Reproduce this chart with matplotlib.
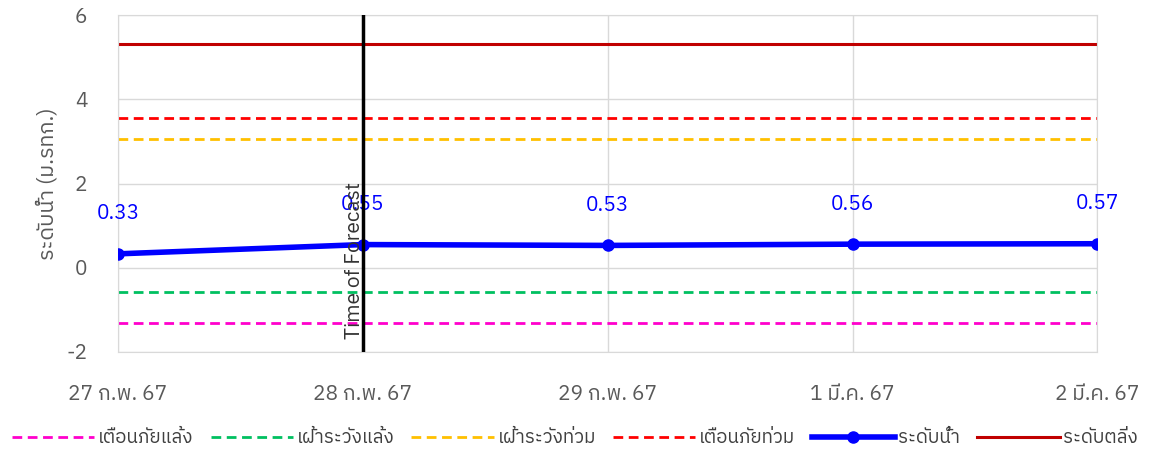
import matplotlib
matplotlib.use("Agg")
import matplotlib.pyplot as plt
from matplotlib import font_manager
from matplotlib.ft2font import FT2Font

# ---- data ----
dates = ["27 ก.พ. 67", "28 ก.พ. 67", "29 ก.พ. 67", "1 มี.ค. 67", "2 มี.ค. 67"]
water_level = [0.33, 0.55, 0.53, 0.56, 0.57]
drought_warning = -1.31      # เตือนภัยแล้ง
drought_watch = -0.57        # เฝ้าระวังแล้ง
flood_watch = 3.06           # เฝ้าระวังท่วม
flood_warning = 3.56         # เตือนภัยท่วม
bank_level = 5.32            # ระดับตลิ่ง
forecast_index = 1
y_ticks = [-2, 0, 2, 4, 6]

# ---- find a font that has Thai glyphs ----
thai_family = None
for f in font_manager.fontManager.ttflist:
    try:
        ft = FT2Font(f.fname)
        if ft.get_char_index(0x0E23) and ft.get_char_index(0x0E49):
            thai_family = f.name
            if "Sans" in f.name:
                break
    except Exception:
        pass
families = ([thai_family] if thai_family else []) + ["DejaVu Sans"]
plt.rcParams["font.family"] = families
plt.rcParams["axes.unicode_minus"] = False

fig = plt.figure(figsize=(11.5, 4.55), dpi=100)
ax = fig.add_axes([0.1026, 0.2264, 0.8517, 0.7406])

x = list(range(len(dates)))
n = len(dates)

l1, = ax.plot(x, [drought_warning] * n, color="#FF00CC", lw=2, ls=(0, (3.5, 2)), label="เตือนภัยแล้ง")
l2, = ax.plot(x, [drought_watch] * n, color="#00C060", lw=2, ls=(0, (3.5, 2)), label="เฝ้าระวังแล้ง")
l3, = ax.plot(x, [flood_watch] * n, color="#FFC000", lw=2, ls=(0, (3.5, 2)), label="เฝ้าระวังท่วม")
l4, = ax.plot(x, [flood_warning] * n, color="#FF0000", lw=2, ls=(0, (3.5, 2)), label="เตือนภัยท่วม")
l5, = ax.plot(x, water_level, color="#0000FF", lw=4, marker="o", ms=8, label="ระดับน้ำ", zorder=4)
l6, = ax.plot(x, [bank_level] * n, color="#C00000", lw=2.2, label="ระดับตลิ่ง")

for xi, v in zip(x, water_level):
    ax.annotate(f"{v:.2f}", (xi, v), xytext=(0, 22), textcoords="offset points",
                ha="center", va="bottom", color="#0000FF", fontsize=15)

ax.axvline(forecast_index, color="black", lw=2.5, zorder=5)
ax.text(forecast_index + 0.005, -1.7, "Time of Forecast", rotation=90, ha="right",
        va="bottom", fontsize=15, color="#333333", zorder=6)

ax.set_xlim(0, n - 1)
ax.set_ylim(-2, 6)
ax.set_yticks(y_ticks)
ax.set_xticks(x)
ax.set_xticklabels(dates)
ax.grid(True, color="#D9D9D9", lw=1)
ax.set_axisbelow(True)
for s in ax.spines.values():
    s.set_color("#D9D9D9")
ax.tick_params(length=0, labelsize=15, colors="#595959")
ax.tick_params(axis="x", pad=24)
ax.tick_params(axis="y", pad=22)
ax.set_ylabel("ระดับน้ำ (ม.รทก.)", fontsize=15.5, color="#595959", labelpad=6)

fig.legend(handles=[l1, l2, l3, l4, l5, l6], loc="lower center", bbox_to_anchor=(0.5, -0.02),
           ncol=6, frameon=False, fontsize=13.5, handlelength=4.4, handletextpad=0.2,
           columnspacing=0.9, labelcolor="#404040")

fig.savefig("out.png", dpi=100)
